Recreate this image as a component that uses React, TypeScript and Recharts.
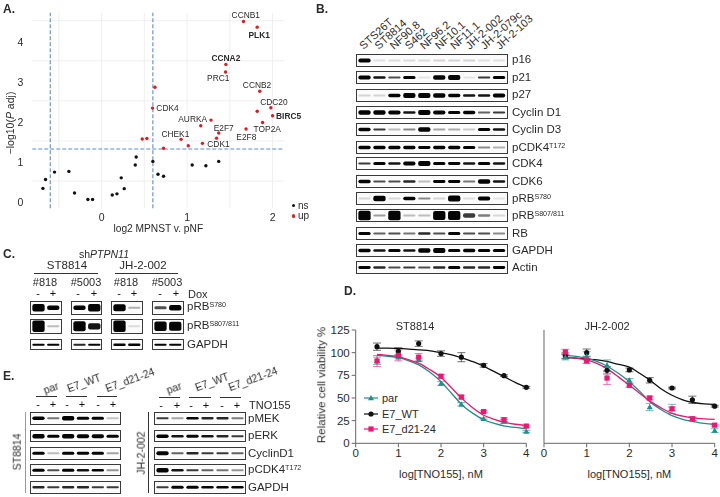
import React from "react";
import {
  Bar,
  BarChart,
  CartesianGrid,
  ComposedChart,
  ErrorBar,
  Line,
  ReferenceLine,
  Scatter,
  ScatterChart,
  XAxis,
  YAxis,
} from "recharts";

const FONT = '"Liberation Sans", Arial, sans-serif';
const TEXT = "#2b2b2b";

// A. volcano
const nsX = [-0.686, -0.655, -0.55, -0.382, -0.316, -0.16, -0.105, 0.125, 0.18, 0.23, 0.265, 0.394, 0.405, 0.6, 0.66, 0.725, 1.06, 1.22, 1.37];
const nsY = [0.316, 0.54, 0.723, 0.74, 0.2, 0.04, 0.04, 0.15, 0.18, 0.58, 0.31, 0.9, 1.1, 0.99, 0.67, 0.62, 0.9, 0.88, 0.99];
const upX = [1.66, 1.82, 1.454, 1.45, 0.624, 1.85, 1.98, 1.82, 0.596, 2.0, 1.28, 1.883, 1.16, 1.37, 1.69, 0.93, 1.345, 0.53, 0.476, 1.014, 1.18, 0.725];
const upY = [4.48, 4.34, 3.41, 3.22, 2.84, 2.74, 2.33, 2.24, 2.32, 2.13, 2.02, 1.96, 1.88, 1.7, 1.8, 1.54, 1.57, 1.56, 1.55, 1.38, 1.44, 1.32];
const upGenes = ["CCNB1", "PLK1", "CCNA2", "PRC1", "", "CCNB2", "CDC20", "", "CDK4", "BIRC5", "AURKA", "TOP2A", "", "E2F7", "E2F8", "CHEK1", "", "", "", "", "CDK1", ""];
const boldGenes = ["PLK1", "CCNA2", "BIRC5"];

const geneOffsets: Record<string, [number, number]> = {
  CCNB1: [2.3, -6.3],
  PLK1: [2, 8],
  CCNA2: [0, -6.3],
  PRC1: [-7.3, 6],
  CCNB2: [-2.7, -6.3],
  CDC20: [3, -5.7],
  CDK4: [15, 0],
  BIRC5: [16, 0],
  AURKA: [-18.3, -0.7],
  TOP2A: [4.7, 6.7],
  E2F7: [5, -5.3],
  E2F8: [0.3, 7.7],
  CHEK1: [-5.7, -5.3],
  CDK1: [16, 0.7],
};

const nsPoints = nsX.map((x, i) => ({ x, y: nsY[i] }));
const upPoints = upX.map((x, i) => ({ x, y: upY[i], gene: upGenes[i] }));

// B. cell line panel
const cellLines = ["STS26T", "ST8814", "NF90.8", "S462", "NF96.2", "NF10.1", "NF11.1", "JH-2-002", "JH-2-079c", "JH-2-103"];
const bP16 = [0.8, 0.03, 0.04, 0.04, 0.04, 0.06, 0.06, 0.06, 0.03, 0.03];
const bP21 = [0.8, 0.55, 0.4, 0.65, 0.02, 0.9, 1, 0.02, 0.45, 0.65];
const bP27 = [0.06, 0.06, 0.7, 1, 1, 0.95, 0.75, 0.55, 0.55, 0.8];
const bCyclinD1 = [0.9, 0.9, 0.85, 0.55, 1, 0.85, 0.65, 0.7, 0.35, 0.45];
const bCyclinD3 = [0.75, 0.45, 0.12, 0.25, 0.95, 0.18, 0.16, 0.08, 0.65, 0.55];
const bPCdk4 = [0.7, 0.7, 0.7, 0.7, 0.6, 0.7, 0.75, 0.65, 0.25, 0.15];
const bCdk4 = [0.45, 0.65, 0.55, 0.8, 1, 0.65, 0.6, 0.55, 0.65, 0.55];
const bCdk6 = [0.7, 0.4, 0.4, 0.5, 0.12, 0.6, 0.6, 0.3, 0.9, 0.55];
const bPRb780 = [0.05, 0.95, 0.05, 0.6, 0.25, 0.06, 1, 0.04, 0.65, 0.02];
const bPRb807 = [1, 0.2, 1, 0.12, 0.12, 0.95, 0.95, 0.45, 0.28, 0.05];
const bRb = [0.65, 0.35, 0.4, 0.3, 0.5, 0.4, 0.65, 0.4, 0.4, 0.25];
const bGapdh = [0.7, 0.55, 0.65, 0.55, 0.9, 1, 0.65, 0.7, 0.65, 0.65];
const bActin = [0.6, 0.5, 0.4, 0.45, 0.4, 0.5, 0.65, 0.5, 0.5, 0.6];

// C. shPTPN11
const cPRb780 = [[0.95, 0.6], [0.6, 0.95], [0.9, 0.15], [0.4, 0.7]];
const cPRb807 = [[1, 0.12], [0.9, 0.55], [1, 0.04], [0.85, 0.8]];
const cGapdh = [[0.6, 0.6], [0.5, 0.65], [0.7, 0.7], [0.6, 0.6]];

// E. TNO155 blots
const eLeftPMek = [0.8, 0.3, 1, 0.7, 0.7, 0.1];
const eLeftPErk = [1, 0.7, 1, 0.85, 0.85, 0.7];
const eLeftCyclinD1 = [0.7, 0.12, 0.7, 0.65, 0.7, 0.18];
const eLeftPCdk4 = [0.7, 0.4, 0.7, 0.55, 0.6, 0.22];
const eLeftGapdh = [0.5, 0.45, 0.5, 0.5, 0.45, 0.45];
const eRightPMek = [0.45, 0.18, 0.6, 0.5, 0.5, 0.28];
const eRightPErk = [0.75, 0.55, 0.65, 0.55, 0.5, 0.45];
const eRightCyclinD1 = [0.85, 0.35, 0.5, 0.45, 0.45, 0.35];
const eRightPCdk4 = [1, 0.55, 0.45, 0.35, 0.3, 0.22];
const eRightGapdh = [0.45, 0.7, 0.7, 0.6, 0.6, 0.6];

// D. dose response
const doses = [0.5, 1, 1.477, 2, 2.477, 3, 3.477, 4];
const fitDoses = [0.5, 0.75, 1, 1.25, 1.5, 1.75, 2, 2.25, 2.5, 2.75, 3, 3.25, 3.5, 3.75, 4];

const st8814Par = [91, 95, 92, 66, 43, 27, 24, 13];
const st8814ParErr = [4, 1, 2, 2, 2, 1, 2, 1];
const st8814ParFit = [97, 96, 94.5, 91, 86, 78, 68, 55, 42, 33, 26, 22, 19, 17.5, 16];
const st8814Wt = [106.6, 101.5, 110, 99, 95, 86, 74.6, 61.8];
const st8814WtErr = [4, 4, 3, 3, 5, 2, 1, 1];
const st8814WtFit = [105, 105, 104.5, 104, 103, 102, 100, 97.5, 94, 90, 85, 79, 73, 67, 62];
const st8814D21 = [90.8, 97, 95, 74, 51, 35, 26, 19];
const st8814D21Err = [6, 6, 4, 2, 2, 1, 2, 1];
const st8814D21Fit = [98, 97, 95.5, 92, 88, 81, 73, 61, 49, 39, 31, 26.5, 23, 21, 19.5];

const jhPar = [95, 96, 86, 69.5, 40, 38, 27, 14];
const jhParErr = [3, 5, 6, 2, 4, 5, 2, 2];
const jhParFit = [97, 96, 94, 90, 84.5, 77, 68, 57, 45, 37, 30.5, 26.5, 24, 22, 21];
const jhWt = [96.7, 100, 80.5, 81, 69.5, 61, 48, 41];
const jhWtErr = [3, 4, 4, 2, 3, 1, 4, 1];
const jhWtFit = [94.5, 94, 93, 92, 90, 87, 84, 77, 69, 60, 53, 48, 45, 43.5, 43];
const jhD21 = [100.7, 91, 72, 64, 50, 38, 27, 20];
const jhD21Err = [3, 3, 7, 2, 2, 2, 2, 1];
const jhD21Fit = [95, 94, 92, 88, 81.6, 73, 64, 55, 46, 39, 33, 30, 28, 27, 26.5];

const lineNames = ["par", "E7_WT", "E7_d21-24"];
const TEAL = "#1d8f8c";
const BLACK = "#111111";
const PINK = "#ee1672";

const viabilityTicks = [0, 25, 50, 75, 100, 125];
const logTicks = [0, 1, 2, 3, 4];

function Txt({ x, y, size = 11.5, center, bold, rotate, children, color = TEXT }: any) {
  const shift = center ? "translate(-50%, -50%)" : "translate(0, -50%)";
  return (
    <div
      style={{
        position: "absolute",
        left: x,
        top: y,
        fontFamily: FONT,
        fontSize: size,
        fontWeight: bold ? 700 : 400,
        color,
        whiteSpace: "nowrap",
        lineHeight: 1,
        willChange: "transform",
        transform: rotate ? `${shift} rotate(${rotate}deg)` : shift,
      }}
    >
      {children}
    </div>
  );
}

function Sup({ children }: any) {
  return <span style={{ fontSize: "0.62em", verticalAlign: "0.5em" }}>{children}</span>;
}

function bandShape(mid: number) {
  return (props: any) => {
    const { x, width, height, payload, index } = props;
    const thick = Math.max(height, 2);
    const w = width * 0.82;
    return (
      <rect
        key={index}
        x={x + (width - w) / 2}
        y={mid - thick / 2}
        width={w}
        height={thick}
        rx={Math.min(thick / 2, 2)}
        fill="#050505"
        fillOpacity={Math.min(1, 0.06 + payload.level * 1.6)}
        style={{ filter: "blur(0.6px)" }}
      />
    );
  };
}

function Blot({ x, y, w, h, levels, max = 2.3 }: any) {
  const rows = levels.map((level: number, i: number) => ({ lane: String(i), level }));
  const innerW = w - 2;
  const innerH = h - 2;
  return (
    <div
      style={{
        position: "absolute",
        left: x,
        top: y,
        width: w,
        height: h,
        boxSizing: "border-box",
        border: "1px solid #3a3a3a",
        background: "#fbfbfb",
        overflow: "hidden",
      }}
    >
      <BarChart width={innerW} height={innerH} data={rows} margin={{ top: 0, right: 0, bottom: 0, left: 0 }} barCategoryGap={0}>
        <XAxis dataKey="lane" hide />
        <YAxis hide domain={[0, max]} />
        <Bar dataKey="level" isAnimationActive={false} shape={bandShape(innerH / 2)} />
      </BarChart>
    </div>
  );
}

function LaneHeader() {
  const rows = cellLines.map((name) => ({ name, v: 0 }));
  const tick = (p: any) => (
    <text
      x={p.x}
      y={p.y}
      transform={`rotate(-42 ${p.x} ${p.y})`}
      fontFamily={FONT}
      fontSize={11}
      fill={TEXT}
    >
      {p.payload.value}
    </text>
  );
  return (
    <div style={{ position: "absolute", left: 356, top: 0 }}>
      <BarChart width={200} height={52} data={rows} margin={{ top: 0, right: 48.5, bottom: 0, left: 0 }}>
        <XAxis dataKey="name" height={2} axisLine={false} tickLine={false} tickSize={0} tickMargin={0} interval={0} tick={tick} />
        <YAxis hide domain={[0, 1]} />
        <Bar dataKey="v" isAnimationActive={false} />
      </BarChart>
    </div>
  );
}

function Volcano() {
  const geneDot = (color: string) => (p: any) => {
    const off = geneOffsets[p.gene];
    return (
      <g>
        <circle cx={p.cx} cy={p.cy} r={1.7} fill={color} />
        {off && (
          <text
            x={p.cx + off[0]}
            y={p.cy + off[1]}
            textAnchor="middle"
            dominantBaseline="central"
            fontFamily={FONT}
            fontSize={8.4}
            fontWeight={boldGenes.includes(p.gene) ? 700 : 400}
            fill={TEXT}
          >
            {p.gene}
          </text>
        )}
      </g>
    );
  };
  const yTitle = () => (
    <text
      transform="translate(10 123) rotate(-90)"
      textAnchor="middle"
      dominantBaseline="central"
      fontFamily={FONT}
      fontSize={10.5}
      fill={TEXT}
    >
      −log10(<tspan fontStyle="italic">P</tspan> adj)
    </text>
  );
  return (
    <div style={{ position: "absolute", left: 0, top: 0 }}>
      <ScatterChart width={320} height={240} margin={{ top: 12.7, right: 35.7, bottom: 0, left: 0 }}>
        <CartesianGrid
          stroke="#efefef"
          horizontalValues={[0, 0.5, 1, 1.5, 2, 2.5, 3, 3.5, 4, 4.5]}
          verticalValues={[-0.5, 0, 0.5, 1, 1.5, 2]}
        />
        <XAxis
          type="number"
          dataKey="x"
          domain={[-0.81, 2.137]}
          ticks={[0, 1, 2]}
          axisLine={false}
          tickLine={false}
          height={31.7}
          tick={{ fontFamily: FONT, fontSize: 10.5, fill: TEXT }}
          tickMargin={-1}
          label={{ value: "log2 MPNST v. pNF", position: "insideBottom", offset: 8, fontFamily: FONT, fontSize: 10.2, fill: TEXT }}
        />
        <YAxis
          type="number"
          dataKey="y"
          domain={[-0.18, 4.7]}
          ticks={[0, 1, 2, 3, 4]}
          axisLine={false}
          tickLine={false}
          width={32.3}
          tick={{ fontFamily: FONT, fontSize: 10.5, fill: TEXT, dy: 1.5 }}
          tickMargin={3}
          label={{ content: yTitle }}
        />
        <ReferenceLine x={-0.6} stroke="#5b8ed2" strokeWidth={1.1} strokeDasharray="4 2" />
        <ReferenceLine x={0.6} stroke="#5b8ed2" strokeWidth={1.1} strokeDasharray="4 2" />
        <ReferenceLine y={1.3} stroke="#5b8ed2" strokeWidth={1.1} strokeDasharray="4 2" />
        <Scatter name="ns" data={nsPoints} isAnimationActive={false} shape={geneDot("#111")} />
        <Scatter name="up" data={upPoints} isAnimationActive={false} shape={geneDot("#e8151b")} />
      </ScatterChart>
      {[["ns", "#111", 205.5], ["up", "#e8151b", 216]].map(([name, c, y]: any) => (
        <React.Fragment key={name}>
          <span style={{ position: "absolute", left: 291.5, top: y - 1.7, width: 3.4, height: 3.4, borderRadius: 2, background: c }} />
          <Txt x={298} y={y} size={10}>{name}</Txt>
        </React.Fragment>
      ))}
    </div>
  );
}

function marker(kind: string, color: string) {
  return (p: any) => {
    const { cx, cy, index } = p;
    if (kind === "triangle")
      return <path key={index} d={`M${cx} ${cy - 3}L${cx + 3} ${cy + 2.2}L${cx - 3} ${cy + 2.2}Z`} fill={color} />;
    if (kind === "square")
      return <rect key={index} x={cx - 2.6} y={cy - 2.6} width={5.2} height={5.2} fill={color} />;
    return <circle key={index} cx={cx} cy={cy} r={2.6} fill={color} />;
  };
}

function DoseKey({ series }: any) {
  return (
    <>
      {series.map((s: any, i: number) => (
        <div
          key={s.name}
          style={{ position: "absolute", left: 364, top: 398 + i * 15.5 - 8, height: 16, display: "flex", alignItems: "center", gap: 4, fontFamily: FONT, fontSize: 11, color: TEXT }}
        >
          <svg width={14} height={8}>
            <line x1={0} x2={14} y1={4} y2={4} stroke={s.color} strokeWidth={1.2} />
            {marker(s.kind, s.color)({ cx: 7, cy: 4, index: i })}
          </svg>
          {s.name}
        </div>
      ))}
    </>
  );
}

function DoseChart({ left, width, showY, series }: any) {
  return (
    <div style={{ position: "absolute", left, top: 320 }}>
      <ComposedChart width={width} height={160} margin={{ top: 10, right: width - (showY ? 201.3 : 180.7), bottom: 0, left: 0 }}>
        <XAxis
          type="number"
          dataKey="x"
          domain={[0, 4]}
          ticks={logTicks}
          height={36.7}
          stroke="#666"
          tickSize={4}
          tick={{ fontFamily: FONT, fontSize: 11.5, fill: TEXT }}
          label={{ value: "log[TNO155], nM", position: "insideBottom", offset: 2, fontFamily: FONT, fontSize: 11, fill: TEXT }}
        />
        <YAxis
          type="number"
          domain={[0, 125]}
          ticks={viabilityTicks}
          width={showY ? 30.7 : 10}
          stroke="#666"
          tickSize={4}
          tick={showY ? { fontFamily: FONT, fontSize: 11.5, fill: TEXT } : false}
        />
        {series.map((s: any) => (
          <Line
            key={s.name}
            name={s.name}
            data={fitDoses.map((x, i) => ({ x, y: s.fit[i] }))}
            dataKey="y"
            stroke={s.color}
            strokeWidth={1.3}
            type="monotone"
            dot={false}
            isAnimationActive={false}
          />
        ))}
        {series.map((s: any) => (
          <Line
            key={s.name + "-pts"}
            name={s.name + "-pts"}
            data={doses.map((x, i) => ({ x, y: s.values[i], err: s.errs[i] }))}
            dataKey="y"
            stroke="none"
            dot={marker(s.kind, s.color)}
            isAnimationActive={false}
          >
            <ErrorBar dataKey="err" width={4} stroke={s.color} strokeOpacity={0.6} strokeWidth={1} direction="y" />
          </Line>
        ))}
      </ComposedChart>
    </div>
  );
}

const bRows: [any, number[], number?][] = [
  ["p16", bP16],
  ["p21", bP21],
  ["p27", bP27],
  ["Cyclin D1", bCyclinD1],
  ["Cyclin D3", bCyclinD3],
  [<>pCDK4<Sup>T172</Sup></>, bPCdk4],
  ["CDK4", bCdk4],
  ["CDK6", bCdk6],
  [<>pRB<Sup>S780</Sup></>, bPRb780, 1.9],
  [<>pRB<Sup>S807/811</Sup></>, bPRb807, 1.15],
  ["RB", bRb],
  ["GAPDH", bGapdh],
  ["Actin", bActin],
];
const bTops = [53.5, 71, 88.5, 106, 123, 141, 157, 175, 192, 209, 227, 244, 261];

const cColumns = [30, 70.7, 111, 152.3];
const cColWidth = 31.5;
const cHeaders = ["#818", "#5003", "#818", "#5003"];
const cSignX = [38, 53, 78, 94, 119, 134, 160, 176];

const eTops = [412, 429.7, 447, 463.7, 481];
const eLabels: any[] = ["pMEK", "pERK", "CyclinD1", <>pCDK4<Sup>T172</Sup></>, "GAPDH"];
const eLeftRows = [eLeftPMek, eLeftPErk, eLeftCyclinD1, eLeftPCdk4, eLeftGapdh];
const eRightRows = [eRightPMek, eRightPErk, eRightCyclinD1, eRightPCdk4, eRightGapdh];
const eLeftSignX = [38, 53, 67, 82, 98, 113];
const eRightSignX = [161, 177, 191, 206, 222, 237];

function Rule({ x, y, w, h = 1, color = "#333" }: any) {
  return <div style={{ position: "absolute", left: x, top: y, width: w, height: h, background: color }} />;
}

export default function App() {
  const leftSeries = [
    { name: lineNames[0], kind: "triangle", color: TEAL, values: st8814Par, errs: st8814ParErr, fit: st8814ParFit },
    { name: lineNames[1], kind: "circle", color: BLACK, values: st8814Wt, errs: st8814WtErr, fit: st8814WtFit },
    { name: lineNames[2], kind: "square", color: PINK, values: st8814D21, errs: st8814D21Err, fit: st8814D21Fit },
  ];
  const rightSeries = [
    { name: lineNames[1], kind: "circle", color: BLACK, values: jhWt, errs: jhWtErr, fit: jhWtFit },
    { name: lineNames[0], kind: "triangle", color: TEAL, values: jhPar, errs: jhParErr, fit: jhParFit },
    { name: lineNames[2], kind: "square", color: PINK, values: jhD21, errs: jhD21Err, fit: jhD21Fit },
  ];

  return (
    <div style={{ position: "absolute", left: 0, top: 0, width: 720, height: 497, background: "#fff", overflow: "hidden" }}>
      <Txt x={3} y={9} size={12} bold>A.</Txt>
      <Txt x={316} y={9} size={12} bold>B.</Txt>
      <Txt x={3} y={254} size={12} bold>C.</Txt>
      <Txt x={344} y={291} size={12} bold>D.</Txt>
      <Txt x={3} y={376} size={12} bold>E.</Txt>

      <Volcano />

      <LaneHeader />
      {bRows.map(([label, levels, max], i) => (
        <React.Fragment key={i}>
          <Blot x={356} y={bTops[i]} w={151.5} h={13} levels={levels} max={max ?? 2.3} />
          <Txt x={512} y={bTops[i] + 6.5} size={11.5}>{label}</Txt>
        </React.Fragment>
      ))}

      <Txt x={104} y={254} size={10.5} center>
        sh<i>PTPN11</i>
      </Txt>
      <Txt x={66.7} y={266} size={11.5} center>ST8814</Txt>
      <Txt x={143} y={266} size={11.5} center>JH-2-002</Txt>
      <Rule x={34} y={273} w={64} />
      <Rule x={115} y={273} w={63} />
      {cHeaders.map((h, i) => (
        <Txt key={i} x={cColumns[i] + 15} y={282} size={11} center>{h}</Txt>
      ))}
      {cSignX.map((x, i) => (
        <Txt key={i} x={x} y={293} size={11} center color="#111">{i % 2 ? "+" : "-"}</Txt>
      ))}
      <Txt x={188} y={294} size={11}>Dox</Txt>
      {cColumns.map((x, i) => (
        <React.Fragment key={i}>
          <Blot x={x} y={301} w={cColWidth} h={13.5} levels={cPRb780[i]} max={1.5} />
          <Blot x={x} y={319} w={cColWidth} h={14.5} levels={cPRb807[i]} max={1.1} />
          <Blot x={x} y={338.5} w={cColWidth} h={11.5} levels={cGapdh[i]} max={2.8} />
        </React.Fragment>
      ))}
      <Txt x={187} y={307} size={11.5}>pRB<Sup>S780</Sup></Txt>
      <Txt x={187} y={326} size={11.5}>pRB<Sup>S807/811</Sup></Txt>
      <Txt x={187} y={344.5} size={11.5}>GAPDH</Txt>

      <DoseChart left={325} width={215} showY series={leftSeries} />
      <DoseChart left={534.3} width={185.7} showY={false} series={rightSeries} />
      <DoseKey series={leftSeries} />
      <Txt x={415} y={325.7} size={11} center>ST8814</Txt>
      <Txt x={606.7} y={325.7} size={11} center>JH-2-002</Txt>
      <Txt x={322} y={385} size={11.5} center rotate={-90}>Relative cell viability %</Txt>

      <Txt x={50.7} y={388} size={10.5} center rotate={-20}>par</Txt>
      <Txt x={84} y={383} size={10.5} center rotate={-20}>E7_WT</Txt>
      <Txt x={130} y={380} size={10.5} center rotate={-20}>E7_d21-24</Txt>
      <Txt x={174} y={388} size={10.5} center rotate={-20}>par</Txt>
      <Txt x={212} y={382} size={10.5} center rotate={-20}>E7_WT</Txt>
      <Txt x={253} y={379} size={10.5} center rotate={-20}>E7_d21-24</Txt>
      <Rule x={36} y={395.5} w={21} />
      <Rule x={66} y={395.5} w={21} />
      <Rule x={97} y={395.5} w={20} />
      <Rule x={159} y={397} w={21} />
      <Rule x={189} y={397} w={22} />
      <Rule x={220} y={397} w={21} />
      {eLeftSignX.map((x, i) => (
        <Txt key={i} x={x} y={404} size={11} center color="#111">{i % 2 ? "+" : "-"}</Txt>
      ))}
      {eRightSignX.map((x, i) => (
        <Txt key={i} x={x} y={405} size={11} center color="#111">{i % 2 ? "+" : "-"}</Txt>
      ))}
      <Txt x={249} y={405} size={11}>TNO155</Txt>
      {eTops.map((y, i) => (
        <React.Fragment key={i}>
          <Blot x={29.5} y={y} w={91} h={12.5} levels={eLeftRows[i]} />
          <Blot x={153.5} y={y} w={92} h={12.5} levels={eRightRows[i]} />
          <Txt x={248} y={y + 6.5} size={11.5}>{eLabels[i]}</Txt>
        </React.Fragment>
      ))}
      <Rule x={25} y={412} w={1} h={81} color="#999" />
      <Rule x={147.5} y={412} w={1} h={81} color="#333" />
      <Txt x={17} y={452} size={10.5} center rotate={-90}>ST8814</Txt>
      <Txt x={141} y={453} size={10.5} center rotate={-90}>JH-2-002</Txt>
    </div>
  );
}
